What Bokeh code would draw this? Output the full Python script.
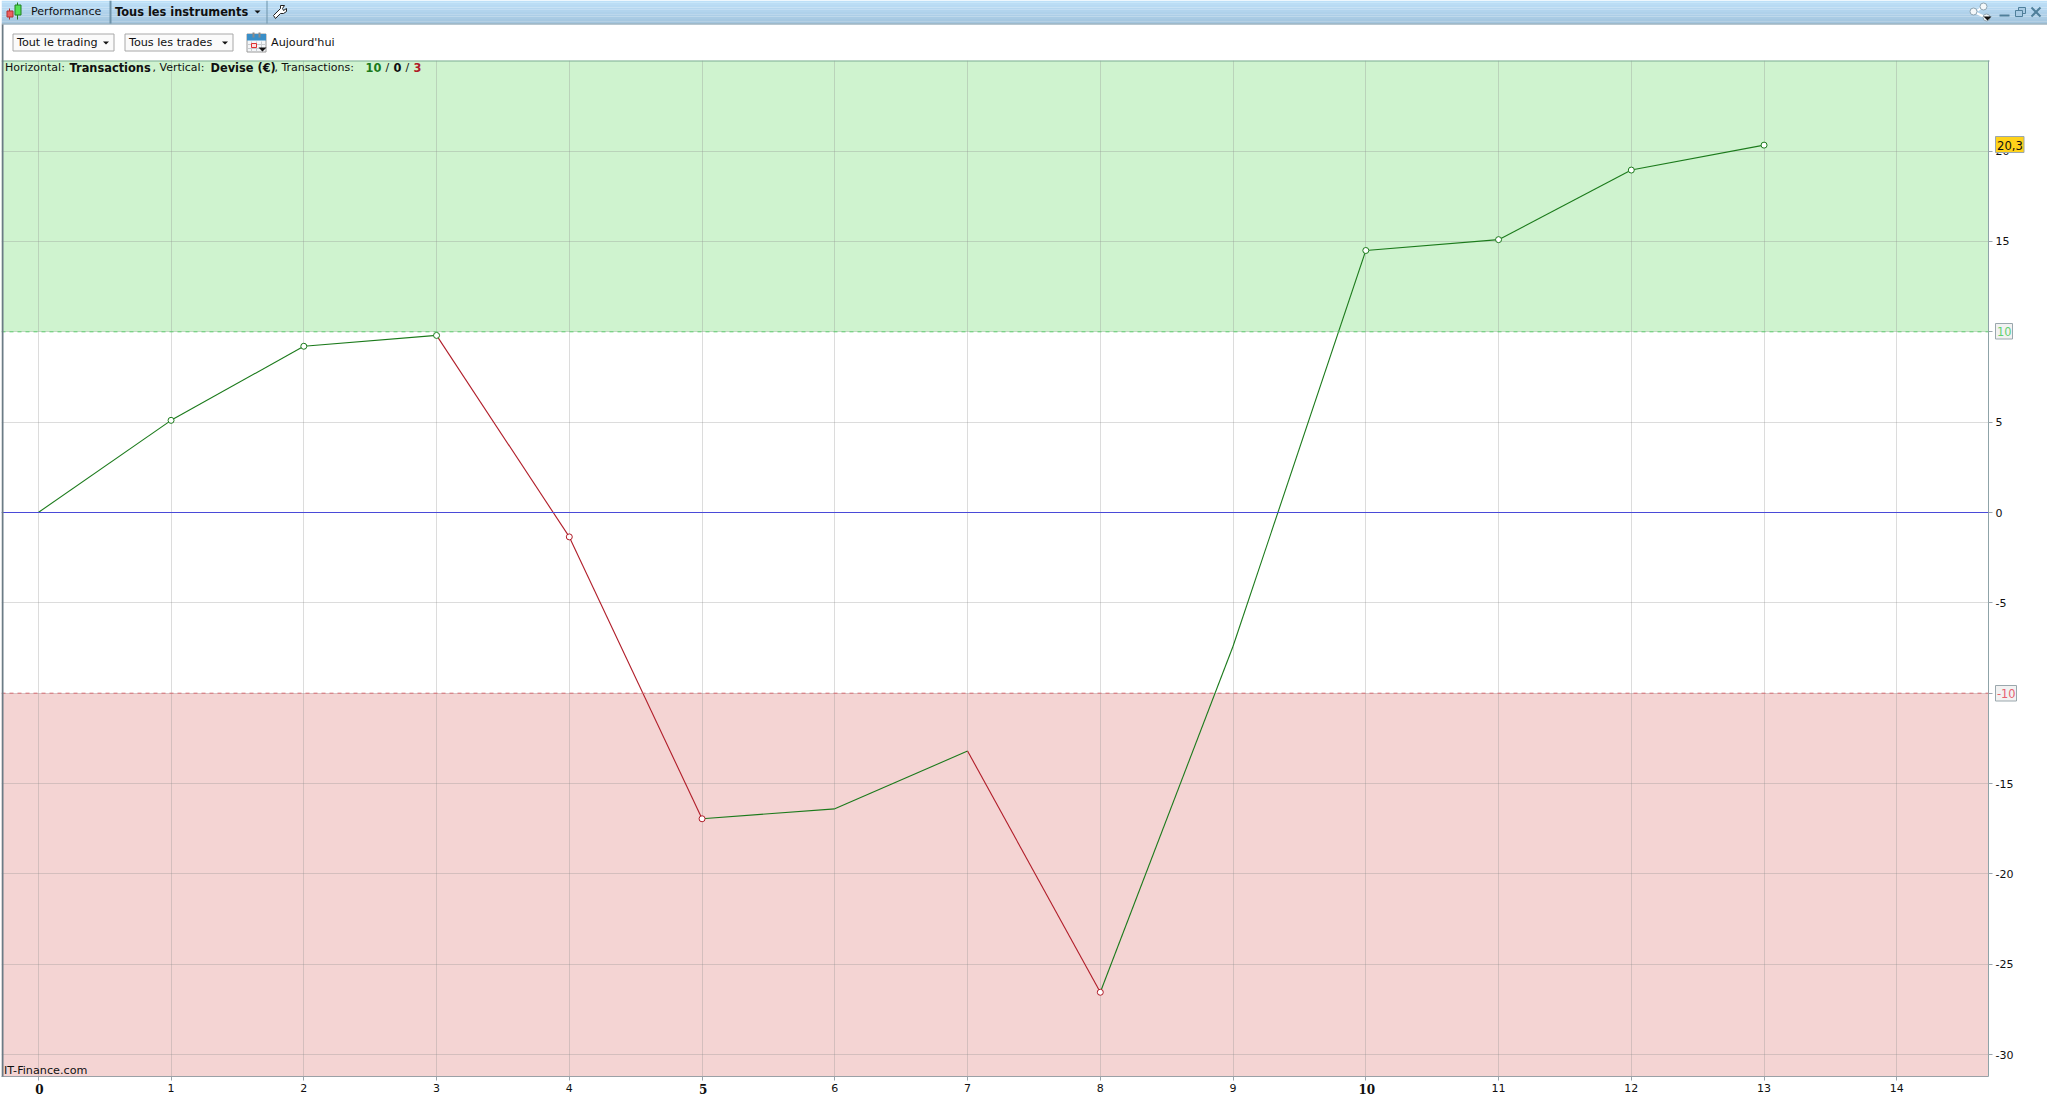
from bokeh.plotting import figure
from bokeh.layouts import column
from bokeh.core.properties import value
from bokeh.models import BoxAnnotation, Span, LinearAxis, FixedTicker, Range1d
from bokeh.embed import file_html
from bokeh.resources import INLINE

trades = list(range(14))
equity = [0, 5.1, 9.2, 9.8, -1.35, -16.95, -16.4, -13.2, -26.55, -7.4, 14.5, 15.1, 18.95, 20.33]
segment_colors = ["g", "g", "g", "r", "r", "g", "g", "r", "g", "g", "g", "g", "g"]
marked = [1, 2, 3, 4, 5, 8, 10, 11, 12, 13]
x_ticks = list(range(15))
bold_x = [0, 5, 10]
y_ticks = [-30, -25, -20, -15, -10, -5, 0, 5, 10, 15, 20]
last_value = "20,3"
upper, lower = 10, -10
GREEN, RED = "#1b7a1b", "#b01c28"
FONT = "DejaVu Sans"
W, H = 2047, 1095
L, R, T, B = 1, 1988, 60, 1076
ppx, ppy = 132.75, 18.07
ox, oy = 37.8, 512

p = figure(width=W, height=H, output_backend="svg", toolbar_location=None,
           x_range=Range1d((L-ox)/ppx, (R-ox)/ppx), y_range=Range1d((oy-B)/ppy, (oy-T)/ppy),
           min_border_left=L, min_border_right=W-R, min_border_top=T, min_border_bottom=H-B,
           x_axis_location=None, y_axis_location=None,
           background_fill_color="white", border_fill_color="white")
p.outline_line_color = None

p.add_layout(BoxAnnotation(bottom=upper, fill_color="#cff3cf", fill_alpha=1, line_alpha=0, level="image"))
p.add_layout(BoxAnnotation(top=lower, fill_color="#f4d4d3", fill_alpha=1, line_alpha=0, level="image"))

xa = LinearAxis(ticker=FixedTicker(ticks=x_ticks), major_label_overrides={i: "" for i in bold_x},
                major_label_text_font=FONT, major_label_text_font_size="11px", major_label_text_color="#101010",
                major_tick_in=0, major_tick_out=4, major_tick_line_color="#9aa5ad", minor_tick_line_color=None,
                axis_line_color="#9aa0a6", major_label_standoff=3)
p.add_layout(xa, "below")
ya_labels = {t: str(t) for t in y_ticks}
ya_labels[upper] = ""
ya_labels[lower] = ""
ya = LinearAxis(ticker=FixedTicker(ticks=y_ticks), major_label_text_font=FONT, major_label_text_font_size="11px",
                major_label_text_color="#101010", major_tick_in=0, major_tick_out=4,
                major_tick_line_color="#9aa5ad", minor_tick_line_color=None,
                axis_line_color="#8fa3a8", major_label_standoff=3, major_label_overrides=ya_labels)
p.add_layout(ya, "right")
p.xgrid.ticker = FixedTicker(ticks=x_ticks)
p.ygrid.ticker = FixedTicker(ticks=y_ticks)
p.grid.grid_line_color = "#8a8a8a"
p.grid.grid_line_alpha = 0.3

p.add_layout(Span(location=0, dimension="width", line_color="#4a4ad8", line_width=1))
p.add_layout(Span(location=upper, dimension="width", line_color="#5fcf6f", line_width=1, line_dash="4 4"))
p.add_layout(Span(location=lower, dimension="width", line_color="#d96a70", line_width=1, line_dash="4 4"))

for i, c in enumerate(segment_colors):
    p.line(trades[i:i+2], equity[i:i+2], line_color=GREEN if c == "g" else RED, line_width=1.1)
p.scatter(marked, [equity[i] for i in marked], size=6, fill_color="white", line_width=1,
          line_color=[RED if equity[i] < 0 else GREEN for i in marked])

# --- transparent sheet over the whole page: window chrome, badges, bold tick labels ---
o = figure(frame_width=W, frame_height=H, output_backend="svg", toolbar_location=None,
           x_range=Range1d(-ox/ppx, (W-ox)/ppx), y_range=Range1d((oy-H)/ppy, oy/ppy),
           min_border=0, min_border_left=0, min_border_right=0, min_border_top=0, min_border_bottom=0,
           x_axis_location=None, y_axis_location=None,
           background_fill_color=None, border_fill_color=None)
o.outline_line_color = None
o.grid.visible = False
o.styles = {"position": "absolute", "top": "0px", "left": "0px"}

def X(px):
    return (px-ox)/ppx

def Y(py):
    return (oy-py)/ppy

def box(l, t, r, b, fill, line=None):
    o.quad(left=[X(l)], right=[X(r)], top=[Y(t)], bottom=[Y(b)], fill_color=fill,
           line_color=line or fill, line_alpha=1 if line else 0, line_width=1)

def poly(pts, fill, line=None, lw=1):
    o.patch([X(a) for a, _ in pts], [Y(b) for _, b in pts], fill_color=fill,
            line_color=line or fill, line_alpha=1 if line else 0, line_width=lw)

def seg(pts, color, lw=1.0):
    o.line([X(a) for a, _ in pts], [Y(b) for _, b in pts], line_color=color, line_width=lw)

def lab(x, y, t, size=11, style="normal", color="#101010", font=FONT, align="left"):
    if style == "bold":
        size = 11.4
    o.text(x=[X(x)], y=[Y(y)], text=[t], text_font=value(font), text_font_size=f"{size}px",
           text_font_style=style, text_color=color, text_align=align, text_baseline="middle")

def tri(x0, x1, y0, y1, color="#111111"):
    poly([(x0, y0), (x1, y0), ((x0+x1)/2, y1)], color)

# title bar
grad = ["#bde0f8", "#bbddf5", "#b8daf3", "#b5d7f0", "#b2d4ed", "#afd1ea", "#accee7", "#a9cbe4", "#a6c8e1", "#a3c5de"]
for i, c in enumerate(grad):
    box(0, i*2.3, W, (i+1)*2.3, c)
box(0, 23, W, 24, "#6f8fa3")
box(108, 0, 110, 23, "#6f93aa")
box(265, 0, 266, 23, "#6f93aa")

# candle icon
seg([(8, 8), (8, 19)], "#b03030")
box(5.5, 10.5, 11.5, 16.5, "#ee6060", "#b03030")
seg([(16, 2), (16, 19)], "#208020")
box(13.5, 4.5, 19.5, 14.5, "#55e055", "#208020")

lab(29.5, 11, "Performance", size=11.1)
lab(113.5, 11, "Tous les instruments", style="bold")
tri(253, 259, 10, 13)

# wrench
poly([(272, 15), (279, 8), (279, 5), (283, 5), (281, 8), (282, 10), (285, 8), (285, 11), (282, 13), (279, 13), (274, 18)],
     "#ffffff", "#222222")

# window buttons
seg([(1976, 10), (1982, 6)], "#ffffff", 2)
seg([(1972, 11), (1984, 17)], "#ffffff", 2)
for cx, cy in [(1982, 6), (1972, 11), (1985, 17)]:
    o.scatter([X(cx)], [Y(cy)], size=7, fill_color="#f4f8fa", line_color="#8fa5b2", line_width=1)
tri(1982, 1990, 16, 20)
box(1998, 14, 2008, 16, "#4f7f9a")
box(2017, 7, 2024, 13, "#a9cbe4", "#4f7f9a")
box(2014, 10, 2021, 16, "#a9cbe4", "#4f7f9a")
seg([(2030, 7), (2039, 16)], "#4f7f9a", 2)
seg([(2039, 7), (2030, 16)], "#4f7f9a", 2)

# controls row
box(11.5, 33.5, 112.5, 50.5, "#fafafa", "#a8a8a8")
lab(15.5, 41.5, "Tout le trading", size=11.2)
tri(101.5, 107.5, 41, 44)
box(123.5, 33.5, 231.5, 50.5, "#fafafa", "#a8a8a8")
lab(127.5, 41.5, "Tous les trades", size=11.2)
tri(220.5, 226.5, 41, 44)

# calendar icon
box(245.5, 33.5, 264.5, 51.5, "#f4f6f8", "#9a9a9a")
box(245.5, 33.5, 264.5, 40, "#3a8fc8")
seg([(252, 32), (252, 37)], "#8a8a8a", 2)
seg([(258, 32), (258, 37)], "#8a8a8a", 2)
for gx in [250, 255, 260]:
    seg([(gx, 41), (gx, 51)], "#c8ccd0")
for gy in [44, 48]:
    seg([(246, gy), (264, gy)], "#c8ccd0")
box(250, 43, 255, 47, "#fde0e0", "#e03030")
tri(257, 265, 47, 51)
lab(269.5, 41.5, "Aujourd'hui", size=11.2)

# info line
for x, t, st, col in [(3.5, "Horizontal:", "normal", "#101010"), (68, "Transactions", "bold", "#101010"),
                      (151, ", Vertical:", "normal", "#101010"), (209, "Devise (€)", "bold", "#101010"),
                      (273, ", Transactions:", "normal", "#101010"), (364, "10", "bold", GREEN),
                      (384, "/", "normal", "#101010"), (392, "0", "bold", "#101010"),
                      (404, "/", "normal", "#101010"), (412, "3", "bold", RED)]:
    lab(x, 67, t, style=st, color=col)

lab(2.5, 1070, "IT-Finance.com", size=11.2)

# frame edges
box(0, 60, 1988, 61, "#7fae96")
box(0, 24, 2, 1076, "#6b7b85")

# bold x tick labels
o.text(x=bold_x, y=[Y(1088)]*len(bold_x), text=[str(v) for v in bold_x], text_font=value("DejaVu Serif"),
       text_font_size="12px", text_font_style="bold", text_color="#101010", text_align="center", text_baseline="middle")

# value badges
box(1994, 136, 2022.5, 152, "#ffd21a", "#9aa7ad")
lab(1995.5, 144.5, last_value, size=11.6)
box(1994, 323, 2011, 338.5, "#f2f2f2", "#9aa7ad")
lab(1995.5, 331, str(upper), color="#60d070", size=11.4)
box(1994, 685, 2015, 700.5, "#f2f2f2", "#9aa7ad")
lab(1995.5, 693, str(lower), color="#e86070", size=11.4)

root = column(p, o, spacing=0)
open("out.html", "w").write(file_html(root, INLINE))
